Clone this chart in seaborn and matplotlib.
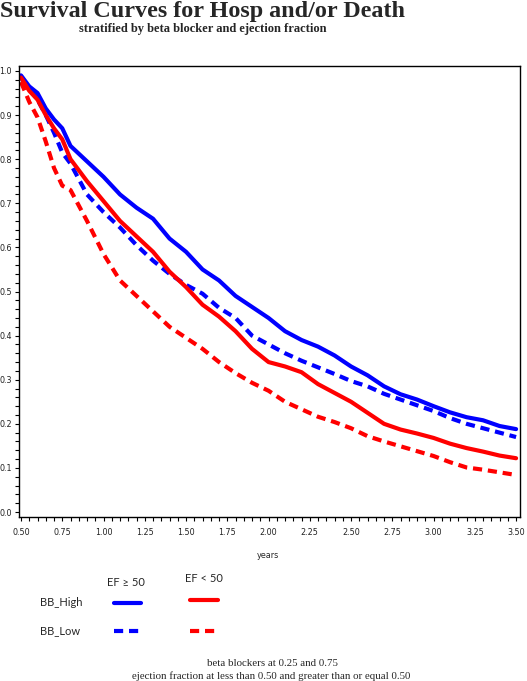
import numpy as np
import pandas as pd
import matplotlib
matplotlib.use('Agg')
import matplotlib.pyplot as plt
from matplotlib.lines import Line2D
from matplotlib.ticker import MultipleLocator
import seaborn as sns

# survival, one value per time point
years = [0.50, 0.55, 0.60, 0.65, 0.70, 0.75, 0.80, 0.90, 1.00, 1.10, 1.20,
         1.30, 1.40, 1.50, 1.60, 1.70, 1.80, 1.90, 2.00, 2.10, 2.20, 2.30,
         2.40, 2.50, 2.60, 2.70, 2.80, 2.90, 3.00, 3.10, 3.20, 3.30, 3.40, 3.50]

high_ef_ge50 = [0.990, 0.965, 0.950, 0.915, 0.890, 0.870, 0.830, 0.795, 0.760,
                0.720, 0.690, 0.665, 0.620, 0.590, 0.550, 0.525, 0.490, 0.465,
                0.440, 0.410, 0.390, 0.375, 0.355, 0.330, 0.310, 0.285, 0.267,
                0.255, 0.240, 0.226, 0.215, 0.208, 0.195, 0.188]
low_ef_ge50 = [0.985, 0.960, 0.935, 0.900, 0.860, 0.815, 0.790, 0.720, 0.680,
               0.645, 0.605, 0.570, 0.540, 0.515, 0.495, 0.463, 0.440, 0.400,
               0.380, 0.360, 0.343, 0.328, 0.313, 0.297, 0.285, 0.268, 0.255,
               0.242, 0.229, 0.213, 0.200, 0.190, 0.180, 0.170]
high_ef_lt50 = [0.985, 0.955, 0.935, 0.900, 0.870, 0.845, 0.800, 0.750, 0.705,
                0.660, 0.625, 0.590, 0.545, 0.510, 0.470, 0.443, 0.410, 0.370,
                0.340, 0.330, 0.317, 0.290, 0.270, 0.250, 0.225, 0.200, 0.187,
                0.178, 0.168, 0.155, 0.145, 0.137, 0.128, 0.122]
low_ef_lt50 = [0.975, 0.930, 0.895, 0.840, 0.780, 0.740, 0.730, 0.660, 0.585,
               0.525, 0.490, 0.455, 0.420, 0.395, 0.370, 0.340, 0.315, 0.293,
               0.275, 0.250, 0.233, 0.216, 0.204, 0.190, 0.172, 0.160, 0.149,
               0.138, 0.127, 0.113, 0.101, 0.096, 0.090, 0.084]

groups = [('BB_High', 'EF >= 50', high_ef_ge50),
          ('BB_Low', 'EF >= 50', low_ef_ge50),
          ('BB_High', 'EF < 50', high_ef_lt50),
          ('BB_Low', 'EF < 50', low_ef_lt50)]

frames = []
for bb, ef, surv in groups:
    frames.append(pd.DataFrame({'years': years, 'surv': surv, 'bb': bb, 'ef': ef}))
df = pd.concat(frames, ignore_index=True)

palette = {'EF >= 50': '#0000ff', 'EF < 50': '#ff0000'}
dash_map = {'BB_High': '', 'BB_Low': (2.2, 1.4)}

sns.set_style('white')
fig = plt.figure(figsize=(5.27, 6.81), dpi=100)
ax = fig.add_axes([0.0361, 0.2408, 0.9507, 0.6623])

sns.lineplot(data=df, x='years', y='surv', hue='ef', style='bb',
             palette=palette, dashes=dash_map, linewidth=3, legend=False,
             ax=ax, sort=False)

ax.set_xlim(0.488, 3.524)
ax.set_ylim(-0.0113, 1.0113)
ax.xaxis.set_major_locator(MultipleLocator(0.25))
ax.xaxis.set_minor_locator(MultipleLocator(0.05))
ax.yaxis.set_major_locator(MultipleLocator(0.1))
ax.yaxis.set_minor_locator(MultipleLocator(0.02))
ax.xaxis.set_major_formatter(plt.FormatStrFormatter('%.2f'))
ax.yaxis.set_major_formatter(plt.FormatStrFormatter('%.1f'))
ax.tick_params(which='both', direction='out', length=3, width=0.8,
               color='black', labelsize=5.8, labelcolor='#222222',
               bottom=True, left=True, pad=2)
ax.tick_params(axis='x', pad=5)
for s in ax.spines.values():
    s.set_color('black')
    s.set_linewidth(1.0)
ax.set_xlabel('')
ax.set_ylabel('')

fig.text(0.0, 0.999, 'Survival Curves for Hosp and/or Death',
         family='Liberation Serif', weight='bold', fontsize=17.4,
         ha='left', va='top')
fig.text(203 / 527, 0.957, 'stratified by beta blocker and ejection fraction',
         family='Liberation Serif', weight='bold', fontsize=9,
         ha='center', va='center')
fig.text(268 / 527, 1 - 555 / 681, 'years', fontsize=5.8,
         ha='center', va='center')

# legend laid out as a small table
leg_font = ['Lato', 'DejaVu Sans']
fig.text(126 / 527, 1 - 582 / 681, 'EF \u2265 50', family=leg_font,
         fontsize=8, ha='center', va='center')
fig.text(204 / 527, 1 - 578 / 681, 'EF < 50', family=leg_font,
         fontsize=8, ha='center', va='center')
fig.text(40 / 527, 1 - 603 / 681, 'BB_High', family=leg_font,
         fontsize=8, ha='left', va='center')
fig.text(40 / 527, 1 - 631 / 681, 'BB_Low', family=leg_font,
         fontsize=8, ha='left', va='center')
for (x0, x1, y, color, dashed) in [(114, 141, 603, '#0000ff', False),
                                    (190, 218, 600, '#ff0000', False),
                                    (114, 142, 631, '#0000ff', True),
                                    (190, 218, 631, '#ff0000', True)]:
    ln = Line2D([x0 / 527, x1 / 527], [1 - y / 681, 1 - y / 681],
                transform=fig.transFigure, color=color, linewidth=3)
    if dashed:
        ln.set_dashes((2.2, 1.4))
    fig.add_artist(ln)

fig.text(272 / 527, 1 - 663 / 681, 'beta blockers at 0.25 and 0.75',
         family='Liberation Serif', fontsize=7.8, ha='center', va='center')
fig.text(271 / 527, 1 - 676 / 681,
         'ejection fraction at less than 0.50 and greater than or equal 0.50',
         family='Liberation Serif', fontsize=7.8, ha='center', va='center')

fig.savefig('out.png', dpi=100)
